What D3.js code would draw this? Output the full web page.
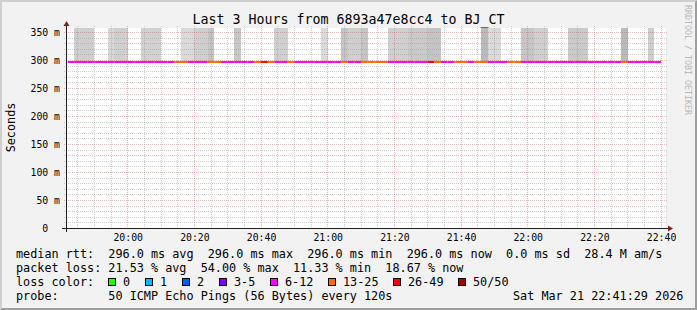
<!DOCTYPE html>
<html><head><meta charset="utf-8">
<script src="https://cdn.jsdelivr.net/npm/d3@7"></script>
<style>
html,body{margin:0;padding:0;background:#f2f2f2;}
svg{display:block;font-family:"DejaVu Sans Mono",monospace;}
text{white-space:pre;}
</style></head><body>
<svg id="c" width="697" height="310"></svg>
<script>
// ---------- data ----------
const title = "Last 3 Hours from 6893a47e8cc4 to BJ_CT";
const yAxisTitle = "Seconds";
const watermark = "RRDTOOL / TOBI OETIKER";
const startTime = "2026-03-21 19:41:29";
const endTime   = "2026-03-21 22:41:29";
const firstStep = "19:42";
const stepMinutes = 2;
const yAxisMaxMs = 357.14;

const yTickValues = [0, 50, 100, 150, 200, 250, 300, 350];
const yTickLabels = ["0", "50 m", "100 m", "150 m", "200 m", "250 m", "300 m", "350 m"];
const xTickLabels = ["20:00", "20:20", "20:40", "21:00", "21:20", "21:40", "22:00", "22:20", "22:40"];

// median rtt per 2-minute step (ms)
const medianRtt = [
 296,296,296,296,296,296,296,296,296,296,296,296,296,296,296,296,
 296,296,296,296,296,296,296,296,296,296,296,296,296,296,296,296,
 296,296,296,296,296,296,296,296,296,296,296,296,296,296,296,296,
 296,296,296,296,296,296,296,296,296,296,296,296,296,296,296,296,
 296,296,296,296,296,296,296,296,296,296,296,296,296,296,296,296,
 296,296,296,296,296,296,296,296,296];
// lost pings (of 50) per 2-minute step
const lostPings = [
 9,9,9,9,9,9,9,9,9,9,9,9,9,9,9,9,   // 19:42 - 20:12
 15,15, 9,9,9, 15,15, 9,9,9,9,9,    // 20:14 - 20:36
 15, 27, 15, 9,9, 15,               // 20:38 - 20:48
 9,9,9,9,9,9,9, 15, 9,9,            // 20:50 - 21:08
 15,15,15,15, 9,9,9,9,9,9,          // 21:10 - 21:28
 27, 15, 9,9, 15,15, 9, 15,15,      // 21:30 - 21:46
 9,9,9, 15,15,                      // 21:48 - 21:56
 9,9,9,9,9,9,9,9,9,9,9,9,9,9,9,     // 21:58 - 22:26
 15, 9,9,9,9,9];                    // 22:28 - 22:38

// smoke (ping spread above the median): start, end, gray level
const smokeStart = ["19:44","19:54","19:56","20:04","20:16","20:20","20:24","20:32","20:44","20:58",
                    "21:04","21:06","21:10","21:18","21:24","21:30","21:46","21:48","21:58","22:02",
                    "22:12","22:28","22:36"];
const smokeEnd   = ["19:50","19:56","20:00","20:10","20:20","20:24","20:26","20:34","20:48","21:00",
                    "21:06","21:10","21:12","21:24","21:30","21:34","21:48","21:52","22:02","22:06",
                    "22:18","22:30","22:38"];
const smokeGray  = [207,216,207,209,218,207,196,199,208,218,
                    197,207,197,208,202,196,186,218,198,208,
                    202,186,205];

const lossBins   = ["0", "1", "2", "3-5", "6-12", "13-25", "26-49", "50/50"];
const lossMin    = [0, 1, 2, 3, 6, 13, 26, 50];
const lossColors = ["#26ff00", "#00b8ff", "#0059ff", "#7e00ff", "#ff00ff", "#ff6a00", "#ff0000", "#a10000"];

const rttRow   = "median rtt:  296.0 ms avg  296.0 ms max  296.0 ms min  296.0 ms now  0.0 ms sd  28.4 M am/s";
const lossRow  = "packet loss: 21.53 % avg  54.00 % max  11.33 % min  18.67 % now";
const colorRowLabel = "loss color:";
const probeRow = "probe:       50 ICMP Echo Pings (56 Bytes) every 120s";
const dateText = "Sat Mar 21 22:41:29 2026";

// ---------- drawing ----------
const W = 697, H = 310;
const X0 = 66, X1 = 666, Y0 = 228, Y1 = 28;
const svg = d3.select("#c");
const parse = d3.timeParse("%Y-%m-%d %H:%M:%S");
const hm = s => parse("2026-03-21 " + s + ":00");

const x = d3.scaleTime().domain([parse(startTime), parse(endTime)]).range([X0, X1]);
const y = d3.scaleLinear().domain([0, yAxisMaxMs]).range([Y0, Y1]);

// frame
svg.append("rect").attr("width", W).attr("height", H).attr("fill", "#f2f2f2");
svg.append("polygon").attr("points", `0,0 0,${H} 2,${H-2} 2,2 ${W-2},2 ${W},0`).attr("fill", "#cfcfcf");
svg.append("polygon").attr("points", `0,${H} ${W},${H} ${W},0 ${W-2},2 ${W-2},${H-2} 2,${H-2}`).attr("fill", "#9e9e9e");

// canvas
svg.append("rect").attr("x", X0).attr("y", Y1).attr("width", X1 - X0).attr("height", Y0 - Y1).attr("fill", "#fff");

// smoke
const yMed = Math.round(y(296));
svg.append("g").attr("shape-rendering", "crispEdges").selectAll("rect")
  .data(smokeStart.map((s, i) => ({s: hm(s), e: hm(smokeEnd[i]), g: smokeGray[i]})))
  .join("rect")
  .attr("x", d => x(d.s)).attr("width", d => x(d.e) - x(d.s))
  .attr("y", Y1).attr("height", yMed - Y1)
  .attr("fill", d => d3.rgb(d.g, d.g, d.g));

// grid
const minorCol = "rgba(143,143,143,0.42)", majorCol = "rgba(222,79,79,0.42)";
const grid = svg.append("g").attr("shape-rendering", "crispEdges").attr("stroke-width", 1).attr("stroke-dasharray", "1,1");
const minorY = d3.range(10, 351, 10).filter(v => v % 50 !== 0);
grid.selectAll(".hmin").data(minorY).join("line")
  .attr("x1", X0 - 2).attr("x2", X1 + 2)
  .attr("y1", v => Math.round(y(v)) + 0.5).attr("y2", v => Math.round(y(v)) + 0.5)
  .attr("stroke", minorCol);
const minorX = d3.timeMinute.every(5).range(parse(startTime), parse(endTime)).filter(d => d.getMinutes() % 20 !== 0);
grid.selectAll(".vmin").data(minorX).join("line")
  .attr("y1", Y1 - 2).attr("y2", Y0 + 2)
  .attr("x1", d => Math.floor(x(d)) + 0.5).attr("x2", d => Math.floor(x(d)) + 0.5)
  .attr("stroke", minorCol);
grid.selectAll(".hmaj").data(yTickValues.filter(v => v > 0)).join("line")
  .attr("x1", X0 - 2).attr("x2", X1 + 2)
  .attr("y1", v => Math.round(y(v)) + 0.5).attr("y2", v => Math.round(y(v)) + 0.5)
  .attr("stroke", majorCol);
grid.selectAll(".vmaj").data(xTickLabels.map(hm)).join("line")
  .attr("y1", Y1 - 2).attr("y2", Y0 + 2)
  .attr("x1", d => Math.floor(x(d)) + 0.5).attr("x2", d => Math.floor(x(d)) + 0.5)
  .attr("stroke", majorCol);

// median line coloured by loss
const binColor = l => { let c = lossColors[0]; lossMin.forEach((m, i) => { if (l >= m) c = lossColors[i]; }); return c; };
const t0 = hm(firstStep);
const steps = medianRtt.map((v, i) => ({
  s: d3.timeMinute.offset(t0, i * stepMinutes),
  e: d3.timeMinute.offset(t0, (i + 1) * stepMinutes),
  v, loss: lostPings[i]
}));
svg.append("g").selectAll("line").data(steps).join("line")
  .attr("x1", d => x(d.s)).attr("x2", d => x(d.e))
  .attr("y1", d => Math.round(y(d.v))).attr("y2", d => Math.round(y(d.v)))
  .attr("stroke", d => binColor(d.loss)).attr("stroke-width", 2);

// axes
const axisCol = "#1f1f1f", arrowCol = "#802020";
svg.append("line").attr("x1", X0 - 4).attr("x2", X1 + 4).attr("y1", Y0 + 0.5).attr("y2", Y0 + 0.5)
  .attr("stroke", axisCol).attr("shape-rendering", "crispEdges");
svg.append("line").attr("x1", X0 + 0.5).attr("x2", X0 + 0.5).attr("y1", Y0 + 4).attr("y2", Y1 - 4)
  .attr("stroke", axisCol).attr("shape-rendering", "crispEdges");
svg.append("polygon").attr("points", `${X1+2},${Y0-3+0.5} ${X1+2},${Y0+3+0.5} ${X1+7},${Y0+0.5}`).attr("fill", arrowCol);
svg.append("polygon").attr("points", `${X0-3+0.5},${Y1-2} ${X0+3+0.5},${Y1-2} ${X0+0.5},${Y1-7}`).attr("fill", arrowCol);

const yAxis = d3.axisLeft(y).tickValues(yTickValues)
  .tickFormat((d, i) => yTickLabels[i].includes(" ") ? yTickLabels[i] : yTickLabels[i] + "  ")
  .tickSize(0).tickPadding(6);
const gy = svg.append("g").attr("transform", `translate(${X0},0)`).call(yAxis);
gy.select(".domain").remove();
gy.selectAll("text").attr("font-size", "9.8px").attr("font-family", "DejaVu Sans Mono").attr("fill", "#000").attr("dy", "0.38em");

const xAxis = d3.axisBottom(x).tickValues(xTickLabels.map(hm))
  .tickFormat((d, i) => xTickLabels[i]).tickSize(0).tickPadding(6.5);
const gx = svg.append("g").attr("transform", `translate(0,${Y0})`).call(xAxis);
gx.select(".domain").remove();
gx.selectAll("text").attr("font-size", "9.8px").attr("font-family", "DejaVu Sans Mono").attr("fill", "#000");

// titles
svg.append("text").attr("x", W / 2).attr("y", 23.5).attr("text-anchor", "middle")
  .attr("font-size", "13.3px").attr("fill", "#000").text(title);
svg.append("text").attr("transform", "translate(14.5,127.5) rotate(-90)").attr("text-anchor", "middle")
  .attr("font-size", "11.8px").attr("fill", "#000").text(yAxisTitle);
svg.append("text").attr("transform", "translate(684.5,5) rotate(90)").attr("text-anchor", "start")
  .attr("font-size", "8.3px").attr("fill", "#b8b8b8").text(watermark);

// legend
const lg = svg.append("g").attr("font-size", "11.8px").attr("fill", "#000");
lg.append("text").attr("x", 16).attr("y", 258).text(rttRow);
lg.append("text").attr("x", 16).attr("y", 272).text(lossRow);
lg.append("text").attr("x", 16).attr("y", 286).text(colorRowLabel);
lg.append("text").attr("x", 16).attr("y", 300).text(probeRow);
lg.append("text").attr("x", 513).attr("y", 300).text(dateText);
let bx = 108;
lossBins.forEach((lab, i) => {
  lg.append("rect").attr("x", bx + 0.5).attr("y", 278.5).attr("width", 7).attr("height", 7)
    .attr("fill", lossColors[i]).attr("stroke", "#000").attr("shape-rendering", "crispEdges");
  lg.append("text").attr("x", bx + 15).attr("y", 286).text(lab);
  bx += 30 + 7 * lab.length;
});
</script>
</body></html>
